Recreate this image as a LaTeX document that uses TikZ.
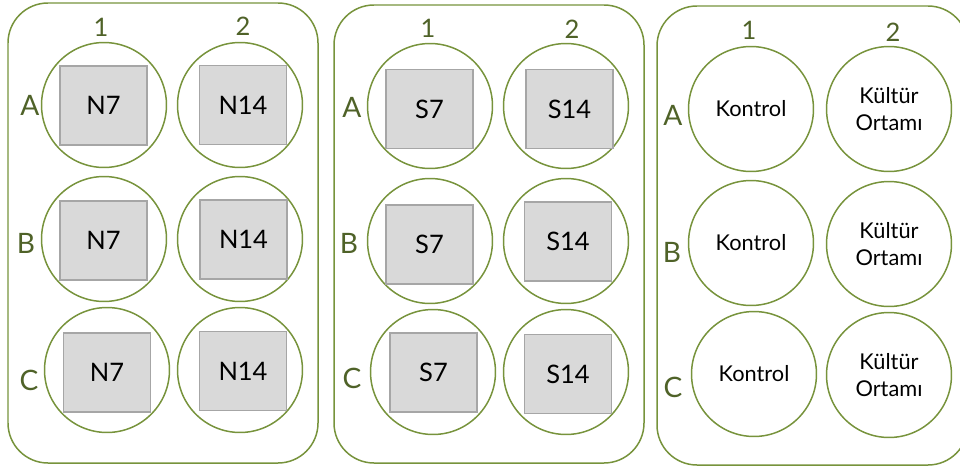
\documentclass[tikz,border=0pt]{standalone}
\usepackage{fontspec}
\setmainfont{Lato}
\definecolor{plategreen}{HTML}{77933C}
\definecolor{labelgreen}{HTML}{4F6228}
\definecolor{padfill}{HTML}{D9D9D9}
\definecolor{padline}{HTML}{A6A6A6}
\tikzset{
  plate/.style={draw=plategreen,line width=0.85pt,rounded corners=0.8cm},
  well/.style={circle,draw=plategreen,line width=0.85pt,minimum size=2.5cm,inner sep=0pt,
    align=center,font=\fontsize{12.4}{15.3}\selectfont},
  pad/.style={draw=padline,fill=padfill,line width=1.1pt,minimum width=1.74cm,
    minimum height=1.58cm,inner sep=0pt,font=\fontsize{14.5}{17}\selectfont},
  rowlab/.style={text=labelgreen,inner sep=0pt,font=\fontsize{16}{19}\selectfont},
  collab/.style={text=labelgreen,inner sep=0pt,font=\fontsize{14.5}{17}\selectfont},
}
\begin{document}
\begin{tikzpicture}[x=0.02cm,y=-0.02cm]
  \useasboundingbox (0,0) rectangle (960,470);
  % plates
  \draw[plate] (8,3) rectangle (318,463);
  \draw[plate] (334,5) rectangle (644,463);
  \draw[plate] (657,6) rectangle (968,465);

  % plate N
  \node[collab] (n1) at (101,27) {1};
  \node[collab] (n2) at (243,26) {2};
  \node[rowlab] (nA) at (30,105) {A};
  \node[rowlab] (nB) at (26,243) {B};
  \node[rowlab] (nC) at (29,380) {C};
  \node[well] (nwA1) at (104,105) {}; \node[pad] (npA1) at (103.5,105.5) {N7};
  \node[well] (nwA2) at (240,105) {}; \node[pad] (npA2) at (243,105) {N14};
  \node[well] (nwB1) at (104,239) {}; \node[pad] (npB1) at (103.5,240.5) {N7};
  \node[well] (nwB2) at (240,239) {}; \node[pad] (npB2) at (243.5,239.5) {N14};
  \node[well] (nwC1) at (107,370) {}; \node[pad] (npC1) at (107,372.5) {N7};
  \node[well] (nwC2) at (240,370) {}; \node[pad] (npC2) at (243,371) {N14};

  % plate S
  \node[collab] (s1) at (428,28) {1};
  \node[collab] (s2) at (572,29) {2};
  \node[rowlab] (sA) at (352,107) {A};
  \node[rowlab] (sB) at (349,243) {B};
  \node[rowlab] (sC) at (352,378) {C};
  \node[well] (swA1) at (430,106) {}; \node[pad] (spA1) at (429.5,109) {S7};
  \node[well] (swA2) at (566,106) {}; \node[pad] (spA2) at (569.5,109) {S14};
  \node[well] (swB1) at (430,241) {}; \node[pad] (spB1) at (429.5,244.5) {S7};
  \node[well] (swB2) at (566,241) {}; \node[pad] (spB2) at (568,241.5) {S14};
  \node[well] (swC1) at (433,372) {}; \node[pad] (spC1) at (433.5,372.5) {S7};
  \node[well] (swC2) at (566,372) {}; \node[pad] (spC2) at (568,374) {S14};

  % plate K
  \node[collab] (k1) at (749,30) {1};
  \node[collab] (k2) at (893,32) {2};
  \node[rowlab] (kA) at (673,115) {A};
  \node[rowlab] (kB) at (672,252) {B};
  \node[rowlab] (kC) at (673,387) {C};
  \node[well] (kwA1) at (751,109) {Kontrol};
  \node[well] (kwA2) at (889,109) {Kültür\\Ortamı};
  \node[well] (kwB1) at (751,243) {Kontrol};
  \node[well] (kwB2) at (889,244) {Kültür\\Ortamı};
  \node[well] (kwC1) at (754,374) {Kontrol};
  \node[well] (kwC2) at (889,375) {Kültür\\Ortamı};
\end{tikzpicture}
\end{document}
